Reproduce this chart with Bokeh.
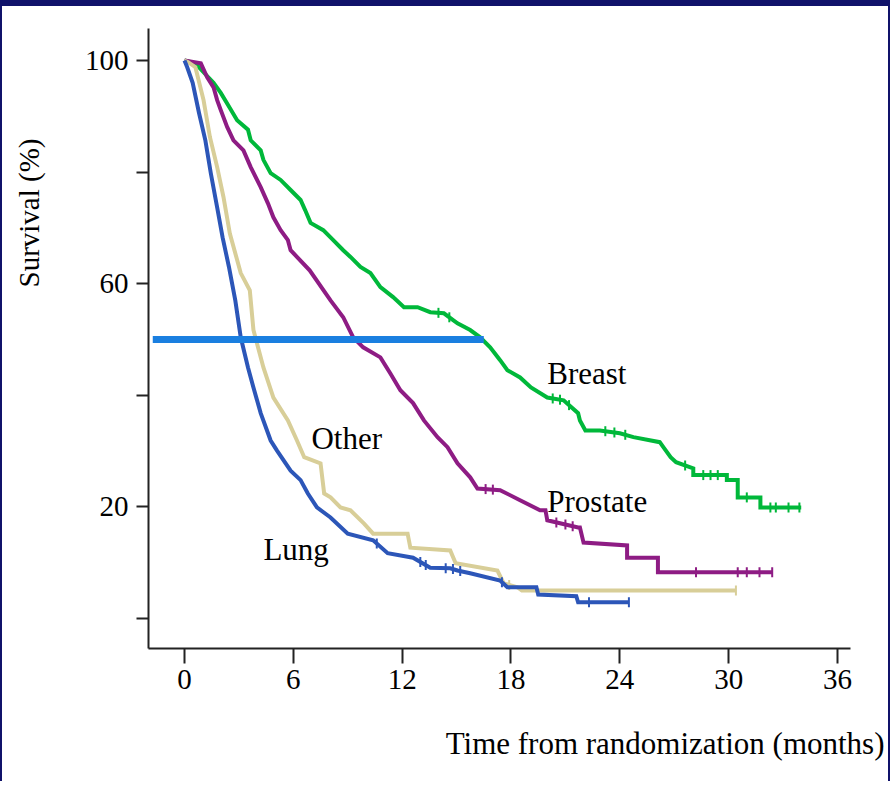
import numpy as np
from bokeh.plotting import figure
from bokeh.models import Range1d, FixedTicker, LinearAxis, Title
from bokeh.core.properties import value
from bokeh.embed import file_html
from bokeh.resources import INLINE

# ---------------- data (Kaplan-Meier paths) ----------------
breast_t = [0, 0.6, 1.05, 1.6, 2.0, 2.5, 2.9, 3.5, 3.65, 4.2, 4.35, 4.75, 5.3, 5.85, 6.4,
            6.65, 6.95, 7.65, 8.2, 8.75, 9.15, 9.7, 10.25, 10.8, 11.5, 12.1, 12.85, 13.55,
            14.3, 15.05, 15.75, 16.3, 16.85, 17.4, 17.8, 18.5, 19.1, 20.0, 20.9, 21.7, 21.8,
            22.1, 22.9, 24.0, 24.75, 26.2, 26.4, 26.8, 27.1, 28.05, 28.05, 29.9, 29.9, 30.5,
            30.5, 31.75, 31.75, 34.0]
breast_s = [100, 99.5, 97.9, 96.0, 94.2, 91.5, 89.3, 87.6, 85.7, 83.9, 82.2, 79.8, 78.6, 76.8,
            75.0, 73.2, 70.9, 69.6, 67.8, 66.0, 64.8, 63.0, 61.9, 59.4, 57.6, 55.8, 55.8, 54.9,
            54.7, 52.9, 51.7, 50.4, 48.6, 46.3, 44.5, 43.2, 41.4, 39.6, 39.1, 36.8, 35.5,
            33.7, 33.7, 33.2, 32.5, 31.6, 30.7, 28.9, 28.0, 26.9, 25.7, 25.7, 24.8, 24.8,
            21.7, 21.7, 19.9, 19.9]

prostate_t = [0, 0.9, 1.25, 1.6, 1.8, 2.0, 2.35, 2.7, 3.25, 3.65, 4.2, 4.6, 4.9, 5.3, 5.7,
              5.85, 6.9, 8.05, 8.75, 9.3, 9.85, 10.8, 11.35, 11.9, 12.6, 13.2, 13.95, 14.5,
              15.05, 15.75, 16.15, 17.4, 18.5, 19.6, 19.9, 20.0, 21.7, 21.8, 22.0, 24.4,
              24.4, 26.1, 26.1, 32.4]
prostate_s = [100, 99.5, 97.0, 95.2, 92.9, 91.1, 88.1, 85.7, 83.9, 80.9, 77.3, 74.4, 71.9,
              69.6, 67.8, 66.0, 62.4, 57.0, 54.0, 50.4, 48.6, 46.8, 43.9, 40.9, 38.6, 35.5,
              32.5, 30.7, 27.8, 25.3, 23.3, 23.0, 21.2, 19.4, 19.4, 17.6, 16.3, 16.3, 13.6,
              13.1, 10.9, 10.9, 8.3, 8.3]

other_t = [0, 0.2, 0.6, 1.05, 1.4, 1.8, 2.15, 2.5, 3.1, 3.6, 3.8, 4.35, 4.9, 5.7, 6.2, 6.6,
           7.5, 7.7, 8.05, 8.6, 9.15, 9.9, 10.4, 12.3, 12.45, 14.65, 14.95, 17.25, 17.6,
           18.35, 18.6, 30.4]
other_s = [100, 99.7, 98.8, 92.9, 86.3, 80.9, 75.5, 69.0, 61.9, 58.8, 51.7, 45.0, 39.6, 35.5,
           31.9, 28.9, 27.8, 22.4, 21.7, 19.9, 19.4, 17.0, 15.2, 15.2, 12.7, 12.2, 9.9, 8.6,
           6.3, 5.6, 5.0, 5.0]

lung_t = [0, 0.15, 0.45, 0.8, 1.15, 1.45, 1.8, 2.1, 2.45, 2.8, 3.1, 3.5, 3.8, 4.2, 4.75, 5.1,
          5.85, 6.4, 6.8, 7.3, 8.05, 9.0, 10.4, 11.2, 12.6, 13.55, 14.65, 15.05, 15.75, 17.4,
          17.8, 19.4, 19.5, 21.6, 21.7, 24.5]
lung_s = [100, 98.8, 96.0, 90.6, 85.7, 79.8, 73.7, 68.3, 63.0, 57.0, 50.4, 45.0, 41.4, 36.8,
          31.9, 30.1, 26.5, 24.8, 22.4, 19.9, 18.1, 15.2, 14.0, 11.7, 10.9, 9.1, 9.0, 8.6, 8.1,
          6.8, 5.6, 5.6, 4.3, 4.0, 2.9, 2.9]

breast_cens = [14.0, 14.6, 20.3, 20.7, 21.2, 23.2, 23.7, 24.3, 27.6, 28.6, 29.0, 29.4, 31.0,
               32.3, 32.6, 33.3, 33.9]
prostate_cens = [16.6, 17.0, 20.5, 21.0, 21.4, 28.2, 30.5, 31.0, 31.7, 32.4]
other_cens = [17.9, 30.4]
lung_cens = [10.6, 13.0, 13.3, 14.4, 14.8, 15.2, 17.5, 22.3, 24.5]

median_x = [-1.75, 16.5]
median_y = [50, 50]

x_ticks = [0, 6, 12, 18, 24, 30, 36]
y_ticks = [0, 20, 40, 60, 80, 100]
y_tick_labels = {0: "", 20: "20", 40: "", 60: "60", 80: "", 100: "100"}

group_names = ["Breast", "Prostate", "Other", "Lung"]
group_label_x = [20.0, 20.0, 7.0, 4.35]
group_label_y = [43.9, 21.0, 32.3, 12.4]

x_title = "Time from randomization (months)"
y_title = "Survival (%)"

# ---------------- figure ----------------
FONT = "Liberation Serif"
NAVY = "#10126A"
p = figure(width=890, height=781, output_backend="svg", toolbar_location=None,
           x_range=Range1d(-1.985, 36.717), y_range=Range1d(-5.38, 105.74),
           min_border_left=146, min_border_right=42, min_border_top=22, min_border_bottom=139)
p.styles = {"border-top": f"6px solid {NAVY}", "border-left": f"2px solid {NAVY}",
            "border-right": f"2px solid {NAVY}"}
p.background_fill_color = "white"
p.border_fill_color = "white"
p.outline_line_color = None
p.grid.visible = False

for ax in (p.xaxis[0], p.yaxis[0]):
    ax.axis_line_color = "#222222"
    ax.axis_line_width = 2
    ax.major_tick_line_color = "#222222"
    ax.major_tick_line_width = 2
    ax.major_tick_in = 0
    ax.minor_tick_line_color = None
    ax.major_label_text_font = FONT
    ax.major_label_text_font_size = "29px"
    ax.major_label_text_color = "black"

p.xaxis.ticker = FixedTicker(ticks=x_ticks)
p.xaxis.major_tick_out = 15
p.xaxis.major_label_standoff = 6
p.yaxis.ticker = FixedTicker(ticks=y_ticks)
p.yaxis.major_label_overrides = y_tick_labels
p.yaxis.major_tick_out = 12
p.yaxis.major_label_standoff = 8


def spacer_axis(gap, tick):
    # invisible axis (one hidden tick) used only to open a gap before the axis title
    return LinearAxis(ticker=FixedTicker(ticks=[tick]), major_label_overrides={tick: ""},
                      axis_label=None, axis_line_color=None,
                      major_tick_line_color=None, minor_tick_line_color=None,
                      major_tick_out=gap, major_tick_in=0, minor_tick_out=0, minor_tick_in=0,
                      major_label_standoff=0)


p.add_layout(spacer_axis(32, 0), "below")
p.add_layout(Title(text=x_title, align="right", offset=-34, text_font=FONT,
                   text_font_size="31px", text_font_style="normal", text_color="black",
                   standoff=0), "below")
p.add_layout(spacer_axis(37, 50), "left")
p.add_layout(Title(text=y_title, align="left", offset=361, text_font=FONT,
                   text_font_size="29px", text_font_style="normal", text_color="black",
                   standoff=0), "left")

series = [
    (breast_t, breast_s, breast_cens, "#00B83A"),
    (prostate_t, prostate_s, prostate_cens, "#8E1C84"),
    (other_t, other_s, other_cens, "#D8CE98"),
    (lung_t, lung_s, lung_cens, "#2C56B8"),
]
for t, s, c, col in series:
    p.line(t, s, line_color=col, line_width=4, line_join="miter")
    cy = list(np.interp(c, t, s))
    p.scatter(c, cy, marker="dash", angle=np.pi / 2, size=10, line_color=col, line_width=2)

p.line(median_x, median_y, line_color="#1A7FE0", line_width=7)

p.text(group_label_x, group_label_y, text=group_names, text_font=value(FONT),
       text_font_size="31px", text_color="black", text_align="left", text_baseline="middle")

open("out.html", "w").write(file_html(p, INLINE))
